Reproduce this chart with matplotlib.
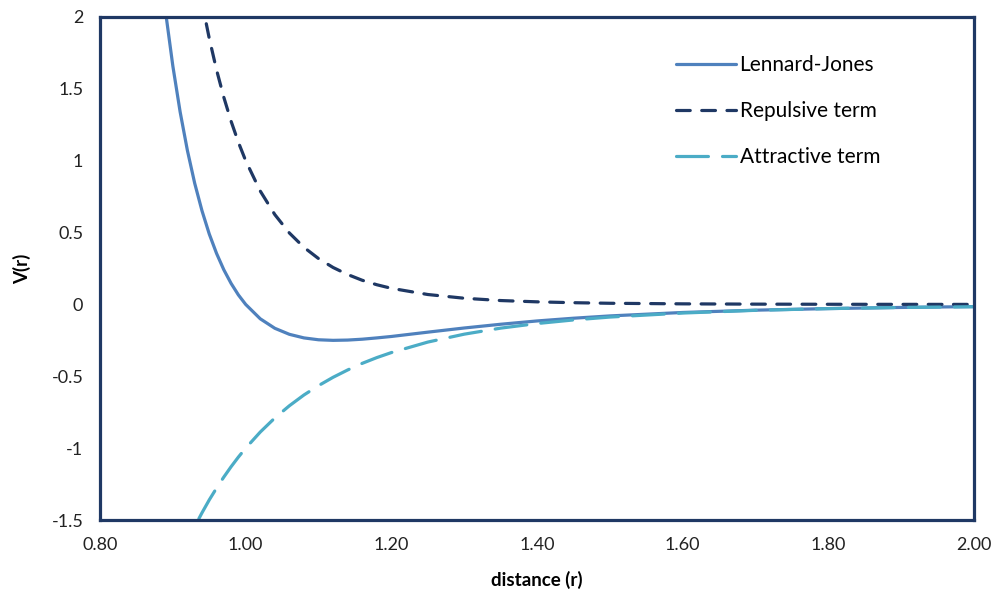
import matplotlib
matplotlib.use("Agg")
import matplotlib.pyplot as plt

plt.rcParams['font.family'] = ['Lato', 'DejaVu Sans']

# distance r and the three curves
r = [0.88, 0.89, 0.90, 0.91, 0.92, 0.93, 0.94, 0.95, 0.96, 0.97, 0.98, 0.99,
     1.00, 1.02, 1.04, 1.06, 1.08, 1.10, 1.12, 1.14, 1.16, 1.18, 1.20,
     1.25, 1.30, 1.35, 1.40, 1.45, 1.50, 1.60, 1.70, 1.80, 1.90, 2.00]
repulsive = [4.637, 4.049, 3.541, 3.101, 2.720, 2.389, 2.101, 1.851, 1.632, 1.441, 1.274, 1.128,
             1.000, 0.789, 0.625, 0.497, 0.397, 0.319, 0.257, 0.208, 0.168, 0.137, 0.112,
             0.069, 0.043, 0.027, 0.018, 0.012, 0.008, 0.004, 0.002, 0.001, 0.0005, 0.0002]
attractive = [-2.153, -2.012, -1.882, -1.761, -1.649, -1.546, -1.450, -1.360, -1.278, -1.201, -1.129, -1.062,
              -1.000, -0.888, -0.790, -0.705, -0.630, -0.565, -0.507, -0.456, -0.410, -0.370, -0.335,
              -0.262, -0.207, -0.165, -0.133, -0.108, -0.088, -0.060, -0.041, -0.029, -0.021, -0.016]
lennard_jones = [2.484, 2.036, 1.659, 1.340, 1.071, 0.843, 0.652, 0.490, 0.355, 0.241, 0.146, 0.066,
                 0.000, -0.100, -0.166, -0.208, -0.233, -0.246, -0.250, -0.248, -0.242, -0.233, -0.223,
                 -0.193, -0.164, -0.138, -0.115, -0.096, -0.080, -0.056, -0.040, -0.029, -0.021, -0.015]

x_ticks = [0.8, 1.0, 1.2, 1.4, 1.6, 1.8, 2.0]
y_ticks = [-1.5, -1, -0.5, 0, 0.5, 1, 1.5, 2]

fig = plt.figure(figsize=(9.95, 6.02), dpi=100)
ax = fig.add_axes([0.1005, 0.1362, 0.8785, 0.8356])

lw = 2.3
ax.plot(r, lennard_jones, color='#4F81BD', lw=lw, label='Lennard-Jones', solid_capstyle='round')
ax.plot(r, repulsive, color='#1F3864', lw=lw, dashes=(4.3, 3.6), label='Repulsive term', dash_capstyle='round')
ax.plot(r, attractive, color='#4BACC6', lw=lw, dashes=(10, 4.4), label='Attractive term', dash_capstyle='round')

ax.set_xlim(0.8, 2.0)
ax.set_ylim(-1.5, 2)
ax.set_xticks(x_ticks)
ax.set_xticklabels([f'{v:.2f}' for v in x_ticks])
ax.set_yticks(y_ticks)
ax.set_yticklabels([f'{v:g}' for v in y_ticks])
ax.tick_params(length=0, labelsize=13, pad=12, colors='#222222')

for s in ax.spines.values():
    s.set_color('#1F3864')
    s.set_linewidth(2.3)

ax.set_xlabel('distance (r)', fontsize=13.5, fontweight='bold', labelpad=13)
ax.set_ylabel('V(r)', fontsize=13.5, fontweight='bold', labelpad=15)

ax.legend(loc='upper left', bbox_to_anchor=(0.647, 0.945), frameon=False, fontsize=15,
          handlelength=2.9, handletextpad=0.15, labelspacing=1.25, borderpad=0)

fig.savefig('out.png', dpi=100)
